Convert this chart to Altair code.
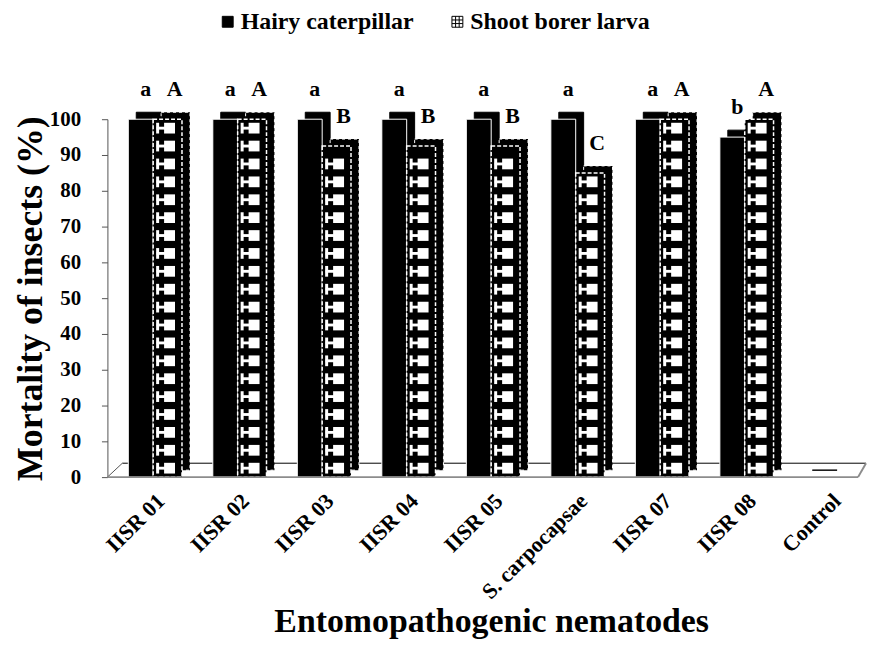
import altair as alt
import pandas as pd

categories = ["IISR 01", "IISR 02", "IISR 03", "IISR 04", "IISR 05",
              "S. carpocapsae", "IISR 07", "IISR 08", "Control"]
series = ["Hairy caterpillar", "Shoot borer larva"]
hairy = [100, 100, 100, 100, 100, 100, 100, 95, 0]
shoot = [100, 100, 92.5, 92.5, 92.5, 85, 100, 100, 0]
hairy_letters = ["a", "a", "a", "a", "a", "a", "a", "b", ""]
shoot_letters = ["A", "A", "B", "B", "B", "C", "A", "A", ""]
y_ticks = [0, 10, 20, 30, 40, 50, 60, 70, 80, 90, 100]

h_df = pd.DataFrame({"cat": categories, "v": hairy, "lab": hairy_letters})
s_df = pd.DataFrame({"cat": categories, "v": shoot, "lab": shoot_letters})
# pattern windows for the "Shoot borer larva" bars (one per 5 % step)
cells = pd.DataFrame([{"cat": c, "v": 5 * k + 1.0, "v2": 5 * k + 4.0}
                      for c, s in zip(categories, shoot) for k in range(int(s // 5))])
links = pd.DataFrame([{"cat": c, "v": 5 * k + 2.1, "v2": 5 * k + 2.9}
                      for c, s in zip(categories, shoot) for k in range(int(s // 5))])
floor_df = pd.DataFrame({"v": [0], "v2": [0]})
legend_df = pd.DataFrame({"series": series})

FONT = "Liberation Serif"
W, H = 755, 360
DX, DY = 8, -7          # 3-D depth offset
HW, SW = 25, 29         # front widths

xscale = alt.Scale(range=[3.5, 768.5], paddingInner=0, paddingOuter=0)
xaxis = alt.Axis(labelAngle=-45, labelAlign="right", labelBaseline="middle",
                 labelFont=FONT, labelFontSize=22, labelFontWeight="bold", labelColor="black",
                 labelPadding=20, labelOffset=8, labelLimit=0, ticks=False, domain=False,
                 titleFont=FONT, titleFontSize=34, titleFontWeight="bold", titlePadding=2,
                 titleColor="black")
X = alt.X("cat:N", sort=categories, scale=xscale, axis=xaxis,
          title="Entomopathogenic nematodes")

yscale = alt.Scale(domain=[0, 100], nice=False)
yaxis = alt.Axis(values=y_ticks, tickCount=11, grid=False, labelFont=FONT, labelFontSize=21,
                 labelFontWeight="bold", labelColor="black", labelPadding=21,
                 labelOverlap=False, tickSize=6, tickColor="#555",
                 domainColor="#555", titleFont=FONT, titleFontSize=36, titleFontWeight="bold",
                 titlePadding=0, titleColor="black")
YT = "Mortality of insects (%)"
Y = alt.Y("v:Q", scale=yscale, axis=yaxis, title=YT)
Y2 = alt.Y2("v2:Q")

floor = alt.Chart(floor_df)
floor_back = floor.mark_rule(color="black", strokeWidth=1, yOffset=-14).encode(
    y=Y, x=alt.value(15), x2=alt.value(W + 8))
floor_left = floor.mark_rule(color="#555", strokeWidth=1, y2Offset=-14).encode(
    y=Y, y2=Y2, x=alt.value(0), x2=alt.value(15))
floor_front = floor.mark_rule(color="#8c8c8c", strokeWidth=2).encode(
    y=Y, x=alt.value(0), x2=alt.value(W))
floor_right = floor.mark_rule(color="#8c8c8c", strokeWidth=2, y2Offset=-14).encode(
    y=Y, y2=Y2, x=alt.value(W), x2=alt.value(W + 8))

hb, sb = alt.Chart(h_df), alt.Chart(s_df)
back_h = hb.mark_bar(width=HW, xOffset=-HW / 2 + DX, yOffset=DY, y2Offset=DY,
                     fill="black", stroke="black", strokeWidth=1).encode(x=X, y=Y)
front_h = hb.mark_bar(width=HW, xOffset=-HW / 2, fill="black", stroke="white",
                      strokeWidth=1).encode(x=X, y=Y)
back_s = sb.mark_bar(width=SW, xOffset=SW / 2 + DX, yOffset=DY, y2Offset=DY,
                     fill="black", stroke="white", strokeWidth=1,
                     strokeDash=[3, 3]).encode(x=X, y=Y)
front_s = sb.mark_bar(width=SW, xOffset=SW / 2, fill="black", stroke="white",
                      strokeWidth=1.5, strokeDash=[4, 2]).encode(x=X, y=Y)
win = alt.Chart(cells).mark_bar(width=11, xOffset=SW / 2 + 2, fill="white").encode(
    x=X, y=Y, y2=Y2)
win_left = alt.Chart(cells).mark_bar(width=3, xOffset=SW / 2 - 10, fill="white").encode(
    x=X, y=Y, y2=Y2)
win_link = alt.Chart(links).mark_bar(width=10, xOffset=SW / 2 - 6, fill="white").encode(
    x=X, y=Y, y2=Y2)

txt_h = hb.mark_text(xOffset=-HW / 2 + 5, dy=-30, font=FONT, fontSize=22,
                     fontWeight="bold", color="black").encode(x=X, y=Y, text="lab:N")
txt_s = sb.mark_text(xOffset=SW / 2 + 7, dy=-30, font=FONT, fontSize=22,
                     fontWeight="bold", color="black").encode(x=X, y=Y, text="lab:N")

grid_path = "M-1,-1H1V1H-1Z M-0.33,-1V1 M0.33,-1V1 M-1,-0.33H1 M-1,0.33H1"
leg = alt.Legend(orient="none", legendX=109, legendY=-110, direction="horizontal",
                 title=None, labelFont=FONT, labelFontSize=24, labelFontWeight="bold",
                 labelColor="black", labelLimit=0, symbolSize=120, symbolOpacity=1,
                 symbolStrokeColor="black", symbolStrokeWidth=1, padding=0,
                 columnPadding=32, labelOffset=1)
legend_layer = alt.Chart(legend_df).mark_point(opacity=0, filled=True, strokeWidth=1).encode(
    fill=alt.Fill("series:N", scale=alt.Scale(domain=series, range=["black", "white"]),
                  legend=leg),
    shape=alt.Shape("series:N", scale=alt.Scale(domain=series, range=["square", grid_path]),
                    legend=leg),
    stroke=alt.Stroke("series:N", scale=alt.Scale(domain=series, range=["black", "black"]),
                      legend=leg),
)

chart = alt.layer(floor_back, floor_left, back_h, front_h, back_s, front_s, win, win_left,
                  win_link, floor_front, floor_right, txt_h, txt_s, legend_layer).properties(
    width=W, height=H,
    padding={"left": 4, "top": 0, "right": 0, "bottom": 5},
).configure(font=FONT).configure_view(stroke=None).configure_legend(
    labelFont=FONT, labelFontSize=24, labelFontWeight="bold", labelLimit=0)

chart.save("out.html", embed_options={"renderer": "svg", "actions": False})
